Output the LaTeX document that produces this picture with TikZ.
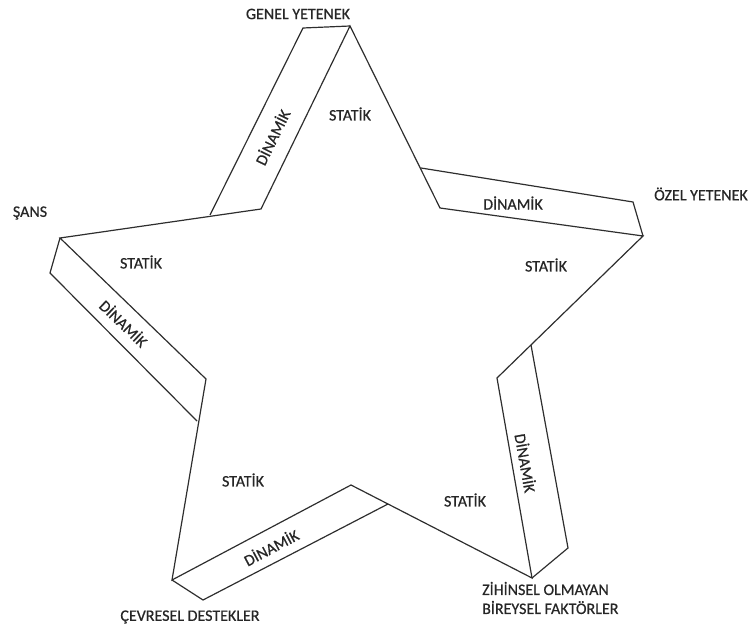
\documentclass[tikz,border=0pt]{standalone}
\usepackage{fontspec}
\setmainfont{Carlito}
\newfontfamily\lblfont[FakeBold=0.6]{Carlito}
\begin{document}
\begin{tikzpicture}[x=1pt,y=-1pt,
  edge/.style={draw=black!82,line width=1.2pt,line join=miter},
  lbl/.style={font=\lblfont\fontsize{16}{19}\selectfont,text=black!85,inner sep=0pt},
  dyn/.style={lbl},
  sta/.style={lbl}]
\useasboundingbox (0,0) rectangle (755,628);
% star vertices
\coordinate (T) at (350,26);
\coordinate (TR) at (440,208);
\coordinate (R) at (643,236);
\coordinate (RB) at (497,378);
\coordinate (BR) at (532,578);
\coordinate (B) at (351,485);
\coordinate (BL) at (172,580);
\coordinate (LB) at (206,379);
\coordinate (L) at (60,238);
\coordinate (TL) at (261,209);
% band corners
\coordinate (A1) at (303,28);
\coordinate (A2) at (210,215);
\coordinate (B1) at (421,168);
\coordinate (B2) at (633,202);
\coordinate (C1) at (50,273);
\coordinate (C2) at (197,421);
\coordinate (D1) at (203,600);
\coordinate (D2) at (388,504);
\coordinate (E1) at (568,548);
\coordinate (E2) at (531,345);
% star
\draw[edge] (T) -- (TR) -- (R) -- (RB) -- (BR) -- (B) -- (BL) -- (LB) -- (L) -- (TL) -- cycle;
% bands
\draw[edge] (T) -- (A1) -- (A2);
\draw[edge] (B1) -- (B2) -- (R);
\draw[edge] (L) -- (C1) -- (C2);
\draw[edge] (BL) -- (D1) -- (D2);
\draw[edge] (BR) -- (E1) -- (E2);
% outer labels
\node[lbl] (gy) at (298,14) {GENEL YETENEK};
\node[lbl] (oy) at (701,194) {ÖZEL YETENEK};
\node[lbl] (sn) at (30,213) {ŞANS};
\node[lbl] (cd) at (190,617) {ÇEVRESEL DESTEKLER};
\node[lbl,anchor=west,align=left] (zb) at (482,598) {ZİHİNSEL OLMAYAN\\BİREYSEL FAKTÖRLER};
% statik
\node[sta] (s1) at (350,114) {STATİK};
\node[sta] (s2) at (546,265) {STATİK};
\node[sta] (s3) at (141,262) {STATİK};
\node[sta] (s4) at (243,480) {STATİK};
\node[sta] (s5) at (465,500) {STATİK};
% dinamik
\node[dyn,rotate=64] (d1) at (272,137) {DİNAMİK};
\node[dyn] (d2) at (513,203) {DİNAMİK};
\node[dyn,rotate=-44] (d3) at (124,323) {DİNAMİK};
\node[dyn,rotate=-80] (d4) at (526,463) {DİNAMİK};
\node[dyn,rotate=28] (d5) at (271,547) {DİNAMİK};
\end{tikzpicture}
\end{document}
